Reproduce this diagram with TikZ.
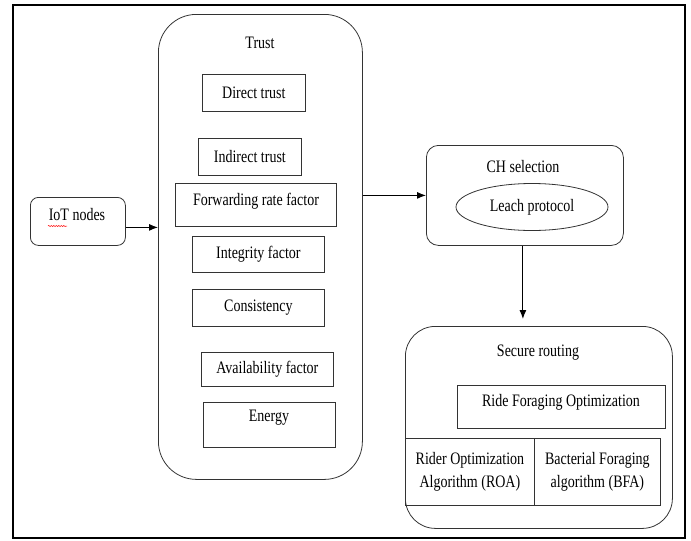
\documentclass[tikz,border=0pt]{standalone}
\usepackage{fontspec}
\setmainfont{Liberation Serif}[FakeStretch=0.8]
\usetikzlibrary{arrows.meta,shapes.geometric,decorations.pathmorphing}
\begin{document}
\begin{tikzpicture}[x=1pt,y=-1pt,
  box/.style={draw=black!80, line width=0.8pt, rectangle, inner sep=0pt, anchor=north west, font=\fontsize{17.5}{23}\selectfont, align=center},
  txt/.style={font=\fontsize{17.5}{23}\selectfont, inner sep=0pt},
  arr/.style={-{Latex[length=9pt,width=7pt]}, line width=1pt}]
\useasboundingbox (0,0) rectangle (691,541);
\draw[line width=2.6pt] (13,5) rectangle (685,538);

% IoT nodes
\node[box, rounded corners=8pt, minimum width=95, minimum height=48] (iot) at (30,197) {};
\node[txt] (iottext) at (77,215) {IoT nodes};
\draw[red, line width=0.5pt, decorate, decoration={snake, amplitude=0.6pt, segment length=2.5pt}] (48,226) -- (67,226);

% Trust
\node[box, rounded corners=38pt, minimum width=204, minimum height=465] (trust) at (158,14) {};
\node[txt] (trusttitle) at (260,43) {Trust};
\node[box, minimum width=103, minimum height=37] (direct) at (202,74) {Direct trust};
\node[box, minimum width=103, minimum height=37] (indirect) at (198,138) {Indirect trust};
\node[box, minimum width=161, minimum height=43] (fwd) at (175,183) {};
\node[txt] (fwdtext) at (256,201) {Forwarding rate factor};
\node[box, minimum width=132, minimum height=36] (integ) at (192,236) {Integrity factor};
\node[box, minimum width=132, minimum height=37] (cons) at (192,289) {Consistency};
\node[box, minimum width=132, minimum height=34] (avail) at (201,352) {Availability factor};
\node[box, minimum width=132, minimum height=45] (energy) at (203,402) {};
\node[txt] (energytext) at (269,418) {Energy};

% CH selection
\node[box, rounded corners=12pt, minimum width=197, minimum height=100] (ch) at (426,145) {};
\node[txt] (chtitle) at (523,167) {CH selection};
\node[draw=black!80, line width=0.8pt, ellipse, inner sep=0pt, minimum width=152, minimum height=47, font=\fontsize{17.5}{23}\selectfont] (leach) at (532,207) {Leach protocol};

% Secure routing
\node[box, rounded corners=30pt, minimum width=267, minimum height=202] (sr) at (405,326) {};
\node[txt] (srtitle) at (538,353) {Secure routing};
\node[box, minimum width=208, minimum height=43] (ride) at (457,385) {};
\node[txt] (ridetext) at (561,402) {Ride Foraging Optimization};
\node[box, minimum width=129, minimum height=67] (roa) at (405,438) {Rider Optimization\\Algorithm (ROA)};
\node[box, minimum width=126, minimum height=67] (bfa) at (534,438) {Bacterial Foraging\\algorithm (BFA)};

% connectors
\draw[arr] ([yshift=-6pt]iot.east) -- ([yshift=-6pt]iot.east -| trust.west);
\draw[arr] (ch.west -| trust.east) -- (ch.west);
\draw[arr] ([xshift=-2pt]ch.south) -- ([xshift=-2pt,yshift=7pt]sr.north -| ch.south);
\end{tikzpicture}
\end{document}
